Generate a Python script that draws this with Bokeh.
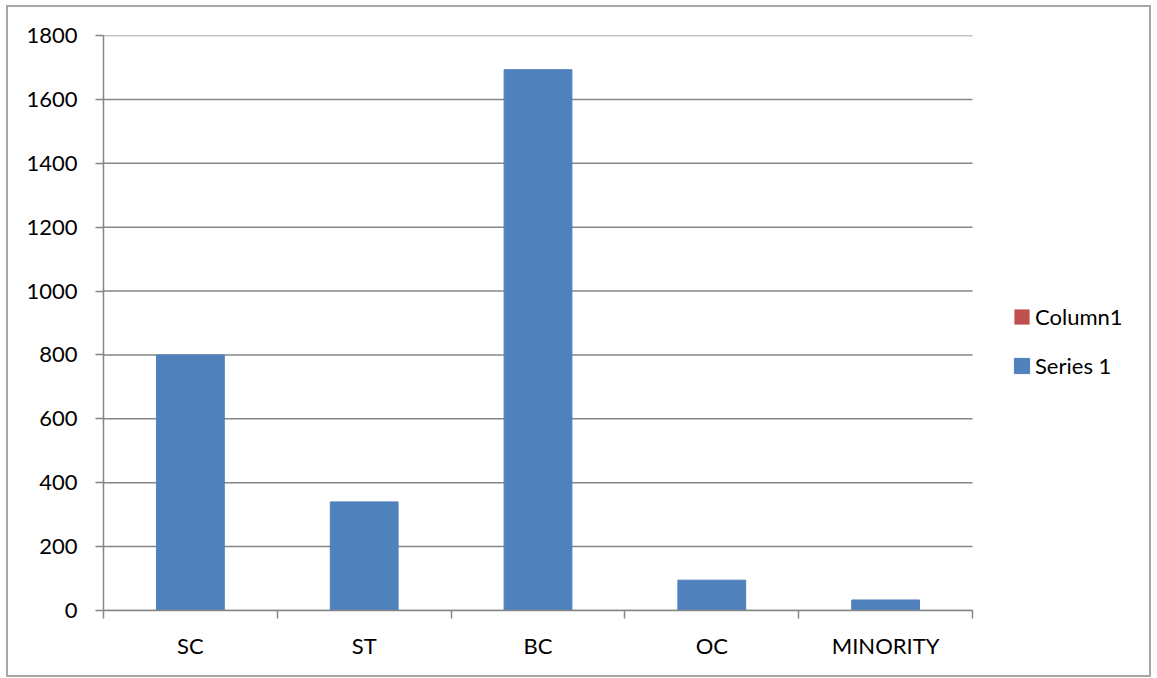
from bokeh.plotting import figure
from bokeh.models import ColumnDataSource, FixedTicker, LinearAxis, Legend, LegendItem, Range1d
from bokeh.embed import file_html
from bokeh.resources import INLINE

categories = ["SC", "ST", "BC", "OC", "MINORITY"]
series1 = [800, 340, 1693, 95, 33]
column1 = [0, 0, 0, 0, 0]
y_ticks = [0, 200, 400, 600, 800, 1000, 1200, 1400, 1600, 1800]

FONT = "Lato"
GRAY = "#868686"

W, H = 1145, 672
LEFT, TOP, BOTTOM = 95, 28, 69
PLOT_W = 869                      # pixel width of the category area
FRAME_W = W - LEFT                # frame runs to the right edge (legend lives there)
n = len(categories)
x_end = n * FRAME_W / PLOT_W

xs = [i + 0.5 for i in range(n)]
src = ColumnDataSource(dict(x=xs, top=series1))
src_col = ColumnDataSource(dict(x=xs, top=column1))
grid_src = ColumnDataSource(dict(x0=[0] * len(y_ticks), x1=[n] * len(y_ticks), y=y_ticks))

p = figure(width=W, height=H, output_backend="svg", toolbar_location=None,
           x_range=Range1d(0, x_end), y_range=Range1d(0, 1800),
           min_border_left=LEFT, min_border_right=0, min_border_top=TOP, min_border_bottom=BOTTOM,
           x_axis_location=None, y_axis_location=None)
p.outline_line_color = None
p.styles = {"border": "2px solid #a6a6a6", "box-sizing": "border-box",
            "margin-left": "6px", "margin-top": "5px"}
p.xgrid.grid_line_color = None
p.ygrid.grid_line_color = None

p.segment(x0="x0", x1="x1", y0="y", y1="y", source=grid_src, line_color=GRAY, line_width=1.5)

r_col = p.vbar(x="x", top="top", width=0.39, source=src_col, fill_color="#C0504D",
               line_color=None)
r_ser = p.vbar(x="x", top="top", width=0.39, source=src, fill_color="#4F81BD",
               line_color="#4F81BD")

yaxis = LinearAxis(ticker=FixedTicker(ticks=y_ticks))
yaxis.axis_line_color = GRAY
yaxis.axis_line_width = 1.5
yaxis.major_tick_line_color = GRAY
yaxis.major_tick_line_width = 1.5
yaxis.major_tick_out = 8
yaxis.major_tick_in = 0
yaxis.minor_tick_line_color = None
yaxis.major_label_text_font = FONT
yaxis.major_label_text_font_size = "22px"
yaxis.major_label_text_color = "black"
yaxis.major_label_standoff = 18
p.add_layout(yaxis, "left")

xaxis = LinearAxis(ticker=FixedTicker(ticks=xs, minor_ticks=list(range(n + 1))), bounds=(0, n))
xaxis.major_label_overrides = {x: c for x, c in zip(xs, categories)}
xaxis.axis_line_color = GRAY
xaxis.axis_line_width = 1.5
xaxis.major_tick_line_color = None
xaxis.minor_tick_line_color = GRAY
xaxis.minor_tick_line_width = 1.5
xaxis.minor_tick_out = 8
xaxis.minor_tick_in = 0
xaxis.major_label_text_font = FONT
xaxis.major_label_text_font_size = "22px"
xaxis.major_label_text_color = "black"
xaxis.major_label_standoff = 13
p.add_layout(xaxis, "below")

legend = Legend(items=[LegendItem(label="Column1", renderers=[r_col]),
                       LegendItem(label="Series 1", renderers=[r_ser])],
                location=(909, 231))
legend.border_line_color = None
legend.background_fill_alpha = 0
legend.padding = 0
legend.margin = 0
legend.glyph_width = 19
legend.glyph_height = 19
legend.label_height = 22
legend.spacing = 22
legend.label_standoff = 4
legend.label_text_font = FONT
legend.label_text_font_size = "22px"
legend.label_text_color = "black"
p.add_layout(legend)

open("out.html", "w").write(file_html(p, INLINE))
